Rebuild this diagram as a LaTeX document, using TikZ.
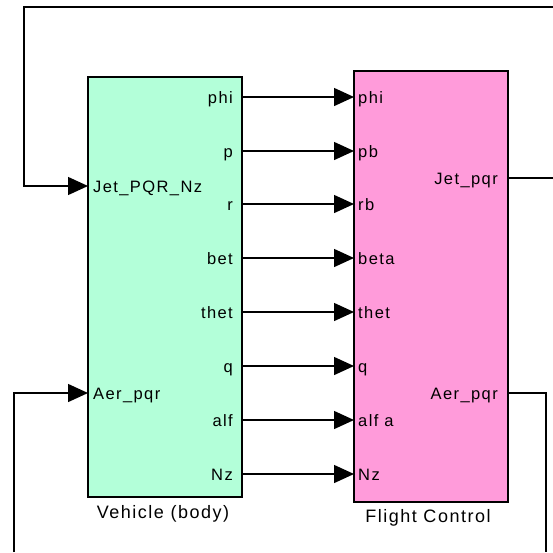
\documentclass[tikz,border=0pt]{standalone}
\usepackage{fontspec}
\setmainfont{Liberation Sans}[LetterSpace=8.5]
\usetikzlibrary{arrows.meta}
\definecolor{vehgreen}{RGB}{179,255,217}
\definecolor{fcpink}{RGB}{255,155,218}
\begin{document}
\begin{tikzpicture}[x=1pt,y=-1pt,
  blk/.style={draw=black, line width=1.5pt, inner sep=0pt, outer sep=0pt},
  wire/.style={line width=1.4pt},
  sig/.style={wire,-{Triangle[length=20pt,width=18pt]}},
  plab/.style={font=\fontsize{16.5}{16.5}\selectfont, inner sep=0pt},
  ttl/.style={font=\fontsize{18}{18}\selectfont, inner sep=0pt}]
\useasboundingbox (0,0) rectangle (553,552);
% blocks
\node[blk, fill=vehgreen, minimum width=154pt, minimum height=420pt, anchor=north west] (veh) at (88,77) {};
\node[blk, fill=fcpink, minimum width=154pt, minimum height=431pt, anchor=north west] (fc) at (354,71) {};
\node[ttl, anchor=base] (vehttl) at (163,518) {Vehicle (body)};
\node[ttl, anchor=base] (fcttl) at (428,522) {Flight Control};
% vehicle outputs and flight control inputs
\foreach \k/\yy/\vlab/\flab in {1/97/phi/phi, 2/151/p/pb, 3/204/r/rb, 4/258/bet/beta, 5/312/thet/thet, 6/366/q/q, 7/420/alf/alf a, 8/474/Nz/Nz}{
  \coordinate (vo\k) at (242,\yy);
  \coordinate (fi\k) at (354,\yy);
  \node[plab, anchor=base east] (vol\k) at (233,\yy+6) {\vlab};
  \node[plab, anchor=base west] (fil\k) at (358,\yy+6) {\flab};
  \draw[sig] (vo\k) -- (fi\k);
}
% vehicle inputs
\coordinate (vjet) at (88,186);
\coordinate (vaer) at (88,393);
\node[plab, anchor=base west] (vjetl) at (93,192) {Jet\_PQR\_Nz};
\node[plab, anchor=base west] (vaerl) at (93,399) {Aer\_pqr};
% flight control outputs
\coordinate (fjet) at (508,178);
\coordinate (faer) at (508,393);
\node[plab, anchor=base east] (fjetl) at (498,184) {Jet\_pqr};
\node[plab, anchor=base east] (faerl) at (498,399) {Aer\_pqr};
% feedback wires (leaving the picture)
\coordinate (jetR) at (553,178);
\coordinate (topR) at (553,7);
\coordinate (topL) at (24,7);
\coordinate (aerR) at (546,393);
\coordinate (aerRB) at (546,552);
\coordinate (aerLB) at (14,552);
\draw[wire] (fjet) -- (jetR);
\draw[sig] (topR) -- (topL) |- (vjet);
\draw[wire] (faer) -- (aerR) -- (aerRB);
\draw[sig] (aerLB) |- (vaer);
\end{tikzpicture}
\end{document}
